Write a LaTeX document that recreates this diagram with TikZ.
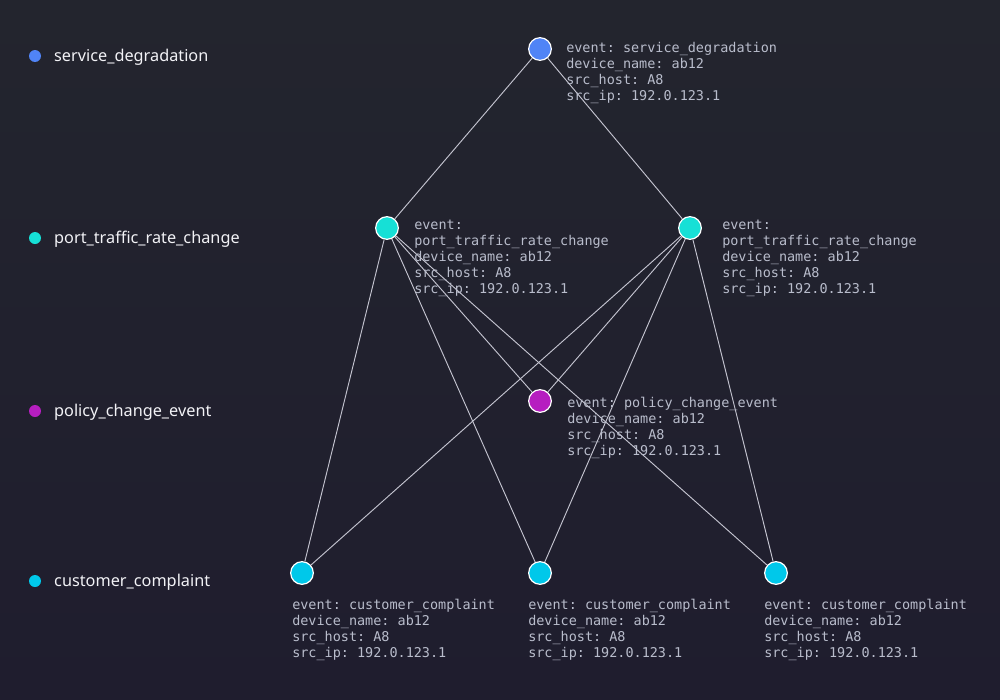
\documentclass[tikz,border=0pt]{standalone}
\usepackage{fontspec}
\setmainfont{Noto Sans}
\newfontfamily\infofont{DejaVu Sans Mono}
\usetikzlibrary{positioning}
\frenchspacing
\definecolor{bgtop}{RGB}{35,37,46}
\definecolor{bgbot}{RGB}{31,29,46}
\definecolor{cdeg}{RGB}{80,132,246}
\definecolor{cport}{RGB}{22,224,214}
\definecolor{cpol}{RGB}{182,30,192}
\definecolor{ccust}{RGB}{0,200,234}
\definecolor{clink}{RGB}{196,196,208}
\definecolor{cinfo}{RGB}{185,189,204}
\definecolor{ckey}{RGB}{242,242,246}
\begin{document}
\begin{tikzpicture}[x=0.75pt,y=-0.75pt,
	evt/.style={draw=white,circle,line width=0.9pt,inner sep=0pt,minimum size=17pt},
	dot/.style={circle,inner sep=0pt,minimum size=9pt},
	key/.style={inner sep=0pt,text=ckey,yshift=-1.2pt,font=\fontsize{12.2}{14}\selectfont},
	info/.style={inner sep=0pt,align=left,anchor=north west,text=cinfo,
		font=\infofont\fontsize{10.1}{12}\selectfont},
	link/.style={draw=clink,line width=0.7pt}]
	\shade[top color=bgtop,bottom color=bgbot] (0,0) rectangle (1000,700);
	\useasboundingbox (0,0) rectangle (1000,700);
	% legend
	\node[dot,fill=cdeg] (k0) at (35,56) {};
	\node[dot,fill=cport] (k1) at (35,238) {};
	\node[dot,fill=cpol] (k2) at (35,411) {};
	\node[dot,fill=ccust] (k3) at (35,581) {};
	\node[key,right=9.5pt of k0] {service\_degradation};
	\node[key,right=9.5pt of k1] {port\_traffic\_rate\_change};
	\node[key,right=9.5pt of k2] {policy\_change\_event};
	\node[key,right=9.5pt of k3] {customer\_complaint};
	% events
	\node[evt,fill=cdeg] (0) at (540,49) {};
	\node[evt,fill=cport] (1) at (387,228) {};
	\node[evt,fill=cport] (2) at (690,228) {};
	\node[evt,fill=cpol] (3) at (540,401) {};
	\node[evt,fill=ccust] (4) at (302,573) {};
	\node[evt,fill=ccust] (5) at (540,573) {};
	\node[evt,fill=ccust] (6) at (776,573) {};
	\draw[link] (0) -- (1);
	\draw[link] (0) -- (2);
	\draw[link] (1) -- (4);
	\draw[link] (1) -- (5);
	\draw[link] (1) -- (3);
	\draw[link] (1) -- (6);
	\draw[link] (2) -- (4);
	\draw[link] (2) -- (3);
	\draw[link] (2) -- (5);
	\draw[link] (2) -- (6);
	% details
	\node[info] (i0) at (566,42) {event: service\_degradation\\device\_name: ab12\\src\_host: A8\\src\_ip: 192.0.123.1};
	\node[info] (i1) at (414,220) {event:\\port\_traffic\_rate\_change\\device\_name: ab12\\src\_host: A8\\src\_ip: 192.0.123.1};
	\node[info] (i2) at (722,220) {event:\\port\_traffic\_rate\_change\\device\_name: ab12\\src\_host: A8\\src\_ip: 192.0.123.1};
	\node[info] (i3) at (567,397) {event: policy\_change\_event\\device\_name: ab12\\src\_host: A8\\src\_ip: 192.0.123.1};
	\node[info] (i4) at (292,599) {event: customer\_complaint\\device\_name: ab12\\src\_host: A8\\src\_ip: 192.0.123.1};
	\node[info] (i5) at (528,599) {event: customer\_complaint\\device\_name: ab12\\src\_host: A8\\src\_ip: 192.0.123.1};
	\node[info] (i6) at (764,599) {event: customer\_complaint\\device\_name: ab12\\src\_host: A8\\src\_ip: 192.0.123.1};
\end{tikzpicture}
\end{document}
